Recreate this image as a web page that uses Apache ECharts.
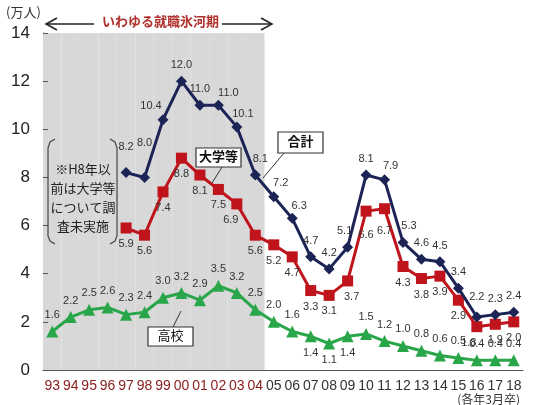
<!DOCTYPE html>
<html><head><meta charset="utf-8">
<script src="https://cdn.jsdelivr.net/npm/echarts@6/dist/echarts.min.js"></script>
<style>html,body{margin:0;padding:0;background:#fff}#c{width:534px;height:405px}</style>
</head><body><div id="c"></div>
<script>
const years = ['93','94','95','96','97','98','99','00','01','02','03','04','05','06','07','08','09','10','11','12','13','14','15','16','17','18'];
const glacialYears = ['93','94','95','96','97','98','99','00','01','02','03','04'];
const total = [null,null,null,null,8.2,8.0,10.4,12.0,11.0,11.0,10.1,8.1,7.2,6.3,4.7,4.2,5.1,8.1,7.9,5.3,4.6,4.5,3.4,2.2,2.3,2.4];
const univ  = [null,null,null,null,5.9,5.6,7.4,8.8,8.1,7.5,6.9,5.6,5.2,4.7,3.3,3.1,3.7,6.6,6.7,4.3,3.8,3.9,2.9,1.8,1.9,2.0];
const high  = [1.6,2.2,2.5,2.6,2.3,2.4,3.0,3.2,2.9,3.5,3.2,2.5,2.0,1.6,1.4,1.1,1.4,1.5,1.2,1.0,0.8,0.6,0.5,0.4,0.4,0.4];
const yTicks = [0,2,4,6,8,10,12,14];

// label offsets (styling only)
const totalOff = {'97':[0,-10],'98':[0,-18],'99':[-12,2],'02':[10,4],'03':[6,3],'04':[5,0],'05':[7,2],'06':[7,4],'09':[-3,0],'11':[6,2],'12':[6,0],'16':[0,-4]};
const univOff = {'03':[-6,0],'09':[4,0],'10':[0,8],'11':[0,6],'16':[-8,0]};
const highBelow = {'07':1,'08':1,'09':1};

const font = 'Liberation Sans, Arial, sans-serif';
const lblBase = {show:true, fontSize:11, color:'#333', fontFamily:font, formatter:p=>p.value.toFixed(1)};

function mk(arr, pos, offs, below){
  return arr.map((v,i)=>{
    if(v===null) return null;
    const y = years[i];
    const lab = {position: (below && below[y]) ? 'bottom' : pos};
    if(offs && offs[y]) lab.offset = offs[y];
    return {value:v, label:lab};
  });
}

const chart = echarts.init(document.getElementById('c'));
chart.setOption({
  animation:false,
  grid:{left:43, right:11, top:33, bottom:35},
  xAxis:{type:'category', data:years, boundaryGap:true,
    axisLine:{lineStyle:{color:'#555'}},
    axisTick:{alignWithLabel:true, inside:true, length:4, lineStyle:{color:'#555'}},
    axisLabel:{interval:0, fontSize:14, fontFamily:font, margin:9,
      color:(v)=> glacialYears.includes(v) ? '#8b2020' : '#333'}},
  yAxis:{type:'value', min:0, max:14, interval:2,
    axisLine:{show:true, lineStyle:{color:'#555'}},
    axisTick:{show:true, inside:true, length:5, lineStyle:{color:'#555'}},
    splitLine:{show:false},
    axisLabel:{fontSize:17, color:'#222', fontFamily:font, margin:13,
      formatter:v=> yTicks.includes(v)? String(v):''}},
  series:[
    {type:'bar', silent:true, barWidth:'100%', z:0,
      data: years.map(y=> glacialYears.includes(y)? 14 : null),
      itemStyle:{color:'#d8d8d8'}},
    {type:'line', name:'合計', data: mk(total,'top',totalOff), symbol:'diamond', symbolSize:11,
      connectNulls:false, lineStyle:{color:'#1c2456', width:3}, itemStyle:{color:'#1c2456'},
      label:lblBase, z:5},
    {type:'line', name:'大学等', data: mk(univ,'bottom',univOff), symbol:'rect', symbolSize:11,
      lineStyle:{color:'#c0141c', width:3}, itemStyle:{color:'#c0141c'},
      label:lblBase, z:4},
    {type:'line', name:'高校', data: mk(high,'top',null,highBelow), symbol:'triangle', symbolSize:12,
      lineStyle:{color:'#2aa64a', width:3}, itemStyle:{color:'#2aa64a'},
      label:lblBase, z:3}
  ],
  graphic:[
    {type:'text', left:6, top:6, style:{text:'(万人)', fontSize:13, fill:'#333', fontFamily:'Noto Sans CJK JP'}},
    {type:'line', shape:{x1:47,y1:24,x2:94,y2:24}, style:{stroke:'#222', lineWidth:1.5}},
    {type:'polyline', shape:{points:[[57,18],[46,24],[57,30]]}, style:{stroke:'#222', lineWidth:1.5, fill:null}},
    {type:'text', left:102, top:15, style:{text:'いわゆる就職氷河期', fontSize:13, fontWeight:'bold', fill:'#b0302c', fontFamily:'Noto Sans CJK JP'}},
    {type:'line', shape:{x1:222,y1:24,x2:271,y2:24}, style:{stroke:'#222', lineWidth:1.5}},
    {type:'polyline', shape:{points:[[261,18],[272,24],[261,30]]}, style:{stroke:'#222', lineWidth:1.5, fill:null}},
    {type:'polyline', shape:{points:[[55,139],[50,142],[48,148],[48,236],[50,241],[55,244]]}, style:{stroke:'#444', lineWidth:1.2, fill:null}, z:10},
    {type:'polyline', shape:{points:[[110,139],[115,142],[117,148],[117,236],[115,241],[110,244]]}, style:{stroke:'#444', lineWidth:1.2, fill:null}, z:10},
    {type:'text', x:83, y:160, z:10, style:{text:'※H8年以\n前は大学等\nについて調\n査未実施', fontSize:13, lineHeight:19, fill:'#222', align:'center', fontFamily:'Noto Sans CJK JP'}},
    {type:'line', z:10, shape:{x1:222,y1:167,x2:212,y2:183}, style:{stroke:'#333', lineWidth:1}},
    {type:'rect', z:10, shape:{x:196,y:148,width:45,height:19}, style:{fill:'#fff', stroke:'#333', lineWidth:1.2}},
    {type:'text', z:11, x:218.5, y:150, style:{text:'大学等', fontSize:13, fontWeight:'bold', fill:'#111', align:'center', fontFamily:'Noto Sans CJK JP'}},
    {type:'line', z:10, shape:{x1:284,y1:153,x2:263,y2:178}, style:{stroke:'#333', lineWidth:1}},
    {type:'rect', z:10, shape:{x:278,y:132,width:45,height:21}, style:{fill:'#fff', stroke:'#333', lineWidth:1.2}},
    {type:'text', z:11, x:300.5, y:135, style:{text:'合計', fontSize:13, fontWeight:'bold', fill:'#111', align:'center', fontFamily:'Noto Sans CJK JP'}},
    {type:'line', z:10, shape:{x1:173,y1:327,x2:181,y2:311}, style:{stroke:'#333', lineWidth:1}},
    {type:'rect', z:10, shape:{x:148,y:327,width:45,height:19}, style:{fill:'#fff', stroke:'#333', lineWidth:1.2}},
    {type:'text', z:11, x:170.5, y:329, style:{text:'高校', fontSize:13, fill:'#111', align:'center', fontFamily:'Noto Sans CJK JP'}},
    {type:'text', right:14, bottom:0, style:{text:'(各年3月卒)', fontSize:12, fill:'#333', fontFamily:'Noto Sans CJK JP'}}
  ]
});
</script></body></html>
